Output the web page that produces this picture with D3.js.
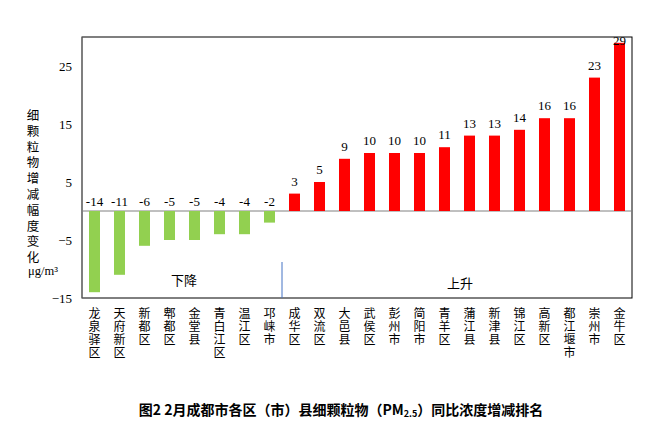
<!DOCTYPE html>
<html><head><meta charset="utf-8">
<script src="https://cdn.jsdelivr.net/npm/d3@7"></script>
<style>body{margin:0;background:#fff}svg{display:block}
.vt{writing-mode:vertical-rl;text-orientation:upright}</style>
</head><body>
<svg id="c" width="663" height="434"></svg>
<script>
const categories = ["龙泉驿区","天府新区","新都区","郫都区","金堂县","青白江区","温江区","邛崃市","成华区","双流区","大邑县","武侯区","彭州市","简阳市","青羊区","蒲江县","新津县","锦江区","高新区","都江堰市","崇州市","金牛区"];
const values = [-14,-11,-6,-5,-5,-4,-4,-2,3,5,9,10,10,10,11,13,13,14,16,16,23,29];
const yTicks = [-15,-5,5,15,25];
const yTitle = "细颗粒物增减幅度变化";
const yUnit = "μg/m³";

const svg = d3.select("#c");
const L=82, R=632, T=37, B=298;
const x = d3.scaleBand().domain(categories).range([L,R]).paddingInner(0.56).paddingOuter(0.28);
const y = d3.scaleLinear().domain([-15,30]).range([B,T]);
const serif = "'Liberation Serif','Times New Roman',serif";
const cjk = "'Noto Sans CJK SC','Noto Sans',sans-serif";

// frame
svg.append("rect").attr("x",L).attr("y",T).attr("width",R-L).attr("height",B-T)
  .attr("fill","none").attr("stroke","#000").attr("stroke-width",1);
svg.append("line").attr("x1",L).attr("x2",L).attr("y1",T).attr("y2",B).attr("stroke","#808080");

// y axis
const ya = d3.axisLeft(y).tickValues(yTicks).tickSize(0).tickPadding(10);
const g = svg.append("g").attr("transform",`translate(${L},0)`).call(ya);
g.select(".domain").remove();
g.selectAll("text").attr("font-family",serif).attr("font-size",13).attr("fill","#000");

// zero line
svg.append("line").attr("x1",L).attr("x2",R).attr("y1",y(0)).attr("y2",y(0)).attr("stroke","#808080");

// bars
svg.selectAll("rect.bar").data(values).join("rect").attr("class","bar")
  .attr("x",(d,i)=>x(categories[i])).attr("width",x.bandwidth())
  .attr("y",d=>y(Math.max(0,d))).attr("height",d=>Math.abs(y(d)-y(0)))
  .attr("fill",d=>d<0?"#92D050":"#FF0000");

// value labels
svg.selectAll("text.val").data(values).join("text").attr("class","val")
  .attr("x",(d,i)=>x(categories[i])+x.bandwidth()/2)
  .attr("y",d=>d<0?y(0)-5:Math.max(y(d)-8,T+8))
  .attr("text-anchor","middle").attr("font-family",serif).attr("font-size",13)
  .text(d=>d);

// x labels (vertical writing)
svg.selectAll("text.xl").data(categories).join("text").attr("class","xl vt")
  .attr("x",d=>x(d)+x.bandwidth()/2).attr("y",307)
  .attr("font-family",cjk).attr("font-size",12).attr("letter-spacing",1.3)
  .text(d=>d);

// divider and annotations
const xd = (x(categories[7])+x.bandwidth()+x(categories[8]))/2;
svg.append("line").attr("x1",xd).attr("x2",xd).attr("y1",262).attr("y2",B).attr("stroke","#4472C4");
svg.append("text").attr("x",184).attr("y",285).attr("text-anchor","middle").attr("font-family",cjk).attr("font-size",13).text("下降");
svg.append("text").attr("x",460).attr("y",288).attr("text-anchor","middle").attr("font-family",cjk).attr("font-size",13).text("上升");

// y title vertical
svg.append("text").attr("class","vt").attr("x",33).attr("y",109)
  .attr("font-family",cjk).attr("font-size",12.5).attr("letter-spacing",3.3).text(yTitle);
svg.append("text").attr("x",43).attr("y",275).attr("text-anchor","middle").attr("font-family",serif).attr("font-size",12.5).text(yUnit);

// chart title
const tt = svg.append("text").attr("x",341).attr("y",415).attr("text-anchor","middle")
  .attr("font-family",cjk).attr("font-size",14).attr("font-weight","bold");
tt.append("tspan").text("图2 2月成都市各区（市）县细颗粒物（PM");
tt.append("tspan").attr("font-size",9).attr("dy",2).text("2.5");
tt.append("tspan").attr("dy",-2).text("）同比浓度增减排名");
</script>
</body></html>
